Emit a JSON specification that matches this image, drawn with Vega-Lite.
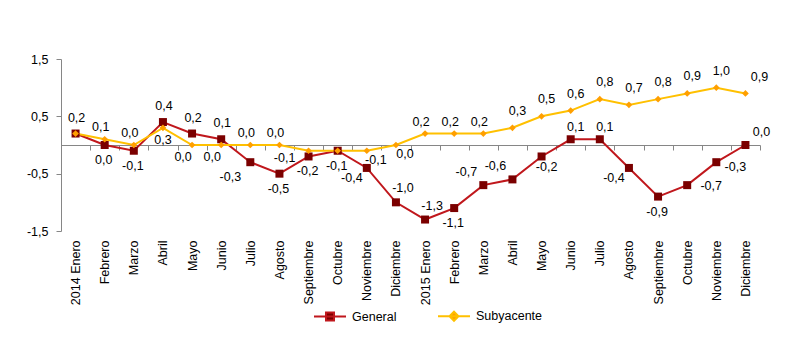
{
  "$schema": "https://vega.github.io/schema/vega-lite/v6.json",
  "width": 699,
  "height": 172,
  "autosize": {"type": "none"},
  "padding": {"left": 61, "top": 59, "right": 48, "bottom": 126},
  "background": "white",
  "config": {
    "view": {"stroke": null},
    "font": "Liberation Sans",
    "locale": {"number": {"decimal": ",", "thousands": ".", "grouping": [3], "currency": ["", " €"], "minus": "-"}},
    "text": {"font": "Liberation Sans", "fontSize": 12.5, "color": "#000000"}
  },
  "data": {"values": [
    {"fecha": "2014-01", "serie": "General", "valor": 0.2},
    {"fecha": "2014-02", "serie": "General", "valor": 0.0},
    {"fecha": "2014-03", "serie": "General", "valor": -0.1},
    {"fecha": "2014-04", "serie": "General", "valor": 0.4},
    {"fecha": "2014-05", "serie": "General", "valor": 0.2},
    {"fecha": "2014-06", "serie": "General", "valor": 0.1},
    {"fecha": "2014-07", "serie": "General", "valor": -0.3},
    {"fecha": "2014-08", "serie": "General", "valor": -0.5},
    {"fecha": "2014-09", "serie": "General", "valor": -0.2},
    {"fecha": "2014-10", "serie": "General", "valor": -0.1},
    {"fecha": "2014-11", "serie": "General", "valor": -0.4},
    {"fecha": "2014-12", "serie": "General", "valor": -1.0},
    {"fecha": "2015-01", "serie": "General", "valor": -1.3},
    {"fecha": "2015-02", "serie": "General", "valor": -1.1},
    {"fecha": "2015-03", "serie": "General", "valor": -0.7},
    {"fecha": "2015-04", "serie": "General", "valor": -0.6},
    {"fecha": "2015-05", "serie": "General", "valor": -0.2},
    {"fecha": "2015-06", "serie": "General", "valor": 0.1},
    {"fecha": "2015-07", "serie": "General", "valor": 0.1},
    {"fecha": "2015-08", "serie": "General", "valor": -0.4},
    {"fecha": "2015-09", "serie": "General", "valor": -0.9},
    {"fecha": "2015-10", "serie": "General", "valor": -0.7},
    {"fecha": "2015-11", "serie": "General", "valor": -0.3},
    {"fecha": "2015-12", "serie": "General", "valor": 0.0},
    {"fecha": "2014-01", "serie": "Subyacente", "valor": 0.2},
    {"fecha": "2014-02", "serie": "Subyacente", "valor": 0.1},
    {"fecha": "2014-03", "serie": "Subyacente", "valor": 0.0},
    {"fecha": "2014-04", "serie": "Subyacente", "valor": 0.3},
    {"fecha": "2014-05", "serie": "Subyacente", "valor": 0.0},
    {"fecha": "2014-06", "serie": "Subyacente", "valor": 0.0},
    {"fecha": "2014-07", "serie": "Subyacente", "valor": 0.0},
    {"fecha": "2014-08", "serie": "Subyacente", "valor": 0.0},
    {"fecha": "2014-09", "serie": "Subyacente", "valor": -0.1},
    {"fecha": "2014-10", "serie": "Subyacente", "valor": -0.1},
    {"fecha": "2014-11", "serie": "Subyacente", "valor": -0.1},
    {"fecha": "2014-12", "serie": "Subyacente", "valor": 0.0},
    {"fecha": "2015-01", "serie": "Subyacente", "valor": 0.2},
    {"fecha": "2015-02", "serie": "Subyacente", "valor": 0.2},
    {"fecha": "2015-03", "serie": "Subyacente", "valor": 0.2},
    {"fecha": "2015-04", "serie": "Subyacente", "valor": 0.3},
    {"fecha": "2015-05", "serie": "Subyacente", "valor": 0.5},
    {"fecha": "2015-06", "serie": "Subyacente", "valor": 0.6},
    {"fecha": "2015-07", "serie": "Subyacente", "valor": 0.8},
    {"fecha": "2015-08", "serie": "Subyacente", "valor": 0.7},
    {"fecha": "2015-09", "serie": "Subyacente", "valor": 0.8},
    {"fecha": "2015-10", "serie": "Subyacente", "valor": 0.9},
    {"fecha": "2015-11", "serie": "Subyacente", "valor": 1.0},
    {"fecha": "2015-12", "serie": "Subyacente", "valor": 0.9}
  ]},
  "encoding": {
    "x": {
      "field": "fecha", "type": "ordinal", "sort": null,
      "scale": {"type": "band", "paddingInner": 0, "paddingOuter": 0},
      "axis": {
        "title": null, "offset": -86, "domainColor": "#868686", "domainWidth": 1,
        "tickColor": "#868686", "tickSize": 5, "tickBand": "extent",
        "labelAngle": -90, "labelPadding": 90, "labelFont": "Liberation Sans", "labelFontSize": 12.5,
        "labelColor": "#000000",
        "labelExpr": "toNumber(substring(datum.value,5,7)) == 1 ? substring(datum.value,0,4) + ' Enero' : ['Enero','Febrero','Marzo','Abril','Mayo','Junio','Julio','Agosto','Septiembre','Octubre','Noviembre','Diciembre'][toNumber(substring(datum.value,5,7)) - 1]"
      }
    },
    "y": {
      "field": "valor", "type": "quantitative",
      "scale": {"domain": [-1.5, 1.5], "nice": false, "zero": false},
      "axis": {
        "title": null, "values": [-1.5, -0.5, 0.5, 1.5], "format": ".1f", "grid": false,
        "domainColor": "#868686", "tickColor": "#868686", "tickSize": 5, "labelPadding": 8,
        "labelFont": "Liberation Sans", "labelFontSize": 12.5, "labelColor": "#000000"
      }
    }
  },
  "layer": [
    {
      "mark": {"type": "line", "strokeWidth": 2},
      "encoding": {
        "color": {
          "field": "serie", "type": "nominal",
          "scale": {"domain": ["General", "Subyacente"], "range": ["#c0171c", "#ffc000"]},
          "legend": {
            "title": null, "orient": "none", "direction": "horizontal", "legendX": 252, "legendY": 240,
            "symbolSize": 1024, "symbolStrokeWidth": 2, "labelOffset": 5, "columnPadding": 37,
            "labelFont": "Liberation Sans", "labelFontSize": 12.5, "labelColor": "#000000",
            "encode": {"symbols": {"update": {
              "shape": {"signal": "datum.value === 'General' ? 'M-1,0H1M-0.25,-0.25H0.25V0.25H-0.25Z' : 'M-1,0H1M0,-0.28L0.28,0L0,0.28L-0.28,0Z'"},
              "fill": {"signal": "datum.value === 'General' ? '#7b0000' : '#ff9f00'"}
            }}}
          }
        }
      }
    },
    {
      "transform": [{"filter": {"field": "serie", "equal": "General"}}],
      "mark": {"type": "point", "shape": "square", "size": 64, "filled": true, "opacity": 1, "color": "#7b0000"}
    },
    {
      "transform": [{"filter": {"field": "serie", "equal": "Subyacente"}}],
      "mark": {"type": "point", "shape": "diamond", "size": 45, "filled": true, "opacity": 1, "color": "#ff9f00"}
    },
    {
      "transform": [{"filter": {"and": [{"field": "serie", "equal": "General"}, {"field": "fecha", "oneOf": ["2014-01", "2014-04", "2014-05", "2014-06"]}]}}],
      "mark": {"type": "text", "dx": 1, "dy": -16},
      "encoding": {"text": {"field": "valor", "type": "quantitative", "format": ".1f"}}
    },
    {
      "transform": [{"filter": {"and": [{"field": "serie", "equal": "General"}, {"field": "fecha", "oneOf": ["2015-06", "2015-07"]}]}}],
      "mark": {"type": "text", "dx": 5, "dy": -12},
      "encoding": {"text": {"field": "valor", "type": "quantitative", "format": ".1f"}}
    },
    {
      "transform": [{"filter": {"and": [{"field": "serie", "equal": "General"}, {"field": "fecha", "oneOf": ["2014-12", "2015-01"]}]}}],
      "mark": {"type": "text", "dx": 7, "dy": -14},
      "encoding": {"text": {"field": "valor", "type": "quantitative", "format": ".1f"}}
    },
    {
      "transform": [{"filter": {"and": [{"field": "serie", "equal": "General"}, {"field": "fecha", "oneOf": ["2015-03", "2015-04"]}]}}],
      "mark": {"type": "text", "dx": -17, "dy": -13},
      "encoding": {"text": {"field": "valor", "type": "quantitative", "format": ".1f"}}
    },
    {
      "transform": [{"filter": {"and": [{"field": "serie", "equal": "General"}, {"field": "fecha", "oneOf": ["2014-02", "2014-03", "2014-08", "2014-09", "2014-10", "2015-02", "2015-09"]}]}}],
      "mark": {"type": "text", "dx": -1, "dy": 15},
      "encoding": {"text": {"field": "valor", "type": "quantitative", "format": ".1f"}}
    },
    {
      "transform": [{"filter": {"and": [{"field": "serie", "equal": "General"}, {"field": "fecha", "oneOf": ["2014-11", "2015-08"]}]}}],
      "mark": {"type": "text", "dx": -15, "dy": 10},
      "encoding": {"text": {"field": "valor", "type": "quantitative", "format": ".1f"}}
    },
    {
      "transform": [{"filter": {"and": [{"field": "serie", "equal": "General"}, {"field": "fecha", "oneOf": ["2014-07"]}]}}],
      "mark": {"type": "text", "dx": -20, "dy": 15},
      "encoding": {"text": {"field": "valor", "type": "quantitative", "format": ".1f"}}
    },
    {
      "transform": [{"filter": {"and": [{"field": "serie", "equal": "General"}, {"field": "fecha", "oneOf": ["2015-05"]}]}}],
      "mark": {"type": "text", "dx": 5, "dy": 11},
      "encoding": {"text": {"field": "valor", "type": "quantitative", "format": ".1f"}}
    },
    {
      "transform": [{"filter": {"and": [{"field": "serie", "equal": "General"}, {"field": "fecha", "oneOf": ["2015-10"]}]}}],
      "mark": {"type": "text", "dx": 24, "dy": 1},
      "encoding": {"text": {"field": "valor", "type": "quantitative", "format": ".1f"}}
    },
    {
      "transform": [{"filter": {"and": [{"field": "serie", "equal": "General"}, {"field": "fecha", "oneOf": ["2015-11"]}]}}],
      "mark": {"type": "text", "dx": 19, "dy": 5},
      "encoding": {"text": {"field": "valor", "type": "quantitative", "format": ".1f"}}
    },
    {
      "transform": [{"filter": {"and": [{"field": "serie", "equal": "General"}, {"field": "fecha", "oneOf": ["2015-12"]}]}}],
      "mark": {"type": "text", "dx": 16, "dy": -13},
      "encoding": {"text": {"field": "valor", "type": "quantitative", "format": ".1f"}}
    },
    {
      "transform": [{"filter": {"and": [{"field": "serie", "equal": "Subyacente"}, {"field": "fecha", "oneOf": ["2014-02", "2014-03", "2014-07", "2014-08", "2015-01", "2015-02", "2015-03"]}]}}],
      "mark": {"type": "text", "dx": -4, "dy": -12},
      "encoding": {"text": {"field": "valor", "type": "quantitative", "format": ".1f"}}
    },
    {
      "transform": [{"filter": {"and": [{"field": "serie", "equal": "Subyacente"}, {"field": "fecha", "oneOf": ["2015-04", "2015-05", "2015-06", "2015-07", "2015-08", "2015-09", "2015-10", "2015-11"]}]}}],
      "mark": {"type": "text", "dx": 5, "dy": -17},
      "encoding": {"text": {"field": "valor", "type": "quantitative", "format": ".1f"}}
    },
    {
      "transform": [{"filter": {"and": [{"field": "serie", "equal": "Subyacente"}, {"field": "fecha", "oneOf": ["2015-12"]}]}}],
      "mark": {"type": "text", "dx": 14, "dy": -16},
      "encoding": {"text": {"field": "valor", "type": "quantitative", "format": ".1f"}}
    },
    {
      "transform": [{"filter": {"and": [{"field": "serie", "equal": "Subyacente"}, {"field": "fecha", "oneOf": ["2014-04"]}]}}],
      "mark": {"type": "text", "dx": 0, "dy": 12},
      "encoding": {"text": {"field": "valor", "type": "quantitative", "format": ".1f"}}
    },
    {
      "transform": [{"filter": {"and": [{"field": "serie", "equal": "Subyacente"}, {"field": "fecha", "oneOf": ["2014-05", "2014-06"]}]}}],
      "mark": {"type": "text", "dx": -9, "dy": 12},
      "encoding": {"text": {"field": "valor", "type": "quantitative", "format": ".1f"}}
    },
    {
      "transform": [{"filter": {"and": [{"field": "serie", "equal": "Subyacente"}, {"field": "fecha", "oneOf": ["2014-09"]}]}}],
      "mark": {"type": "text", "dx": -24, "dy": 7},
      "encoding": {"text": {"field": "valor", "type": "quantitative", "format": ".1f"}}
    },
    {
      "transform": [{"filter": {"and": [{"field": "serie", "equal": "Subyacente"}, {"field": "fecha", "oneOf": ["2014-11", "2014-12"]}]}}],
      "mark": {"type": "text", "dx": 9, "dy": 9},
      "encoding": {"text": {"field": "valor", "type": "quantitative", "format": ".1f"}}
    }
  ]
}
